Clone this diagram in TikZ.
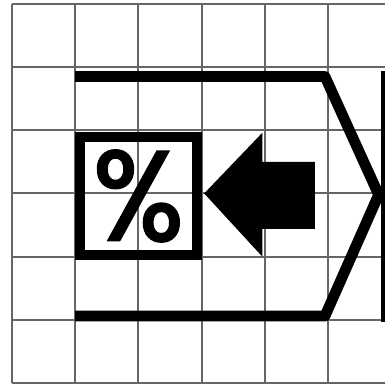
\documentclass[tikz,border=0pt]{standalone}
\usepackage{graphicx}
\usepackage{fontspec}
\newfontfamily\symfont[FakeBold=2]{Poppins}
\usetikzlibrary{positioning,calc}

\begin{document}
\begin{tikzpicture}[
  gridline/.style={draw=black!60,line width=0.9pt},
  bar/.style={line width=0.17cm},
  pctbox/.style={draw,line width=0.16cm,minimum width=1.84cm,minimum height=1.87cm,inner sep=0pt}
]
  \useasboundingbox (-0.19,-0.03) rectangle (5.90,6.06);
  % Grid
  \foreach \x in {0,...,5} \draw[gridline] (\x,0) -- (\x,6);
  \foreach \y in {0,...,6} \draw[gridline] (0,\y) -- (5.95,\y);

  % Outline of the container
  \draw[bar,line join=round] (1,4.85) -- (4.95,4.85) -- (5.80,2.98) -- (4.95,1.06) -- (1,1.06);
  \draw[bar] (5.92,0.97) -- (5.92,4.94);

  % Percent box and arrow
  \node[pctbox] (pct) at (2,2.96) {\resizebox{1.44cm}{1.42cm}{\symfont\%}};
  \fill (3.04,3.0) -- (3.96,3.96) -- (3.96,3.5) -- (4.79,3.5) -- (4.79,2.44) -- (3.96,2.44) -- (3.96,2.0) -- cycle;
\end{tikzpicture}
\end{document}
